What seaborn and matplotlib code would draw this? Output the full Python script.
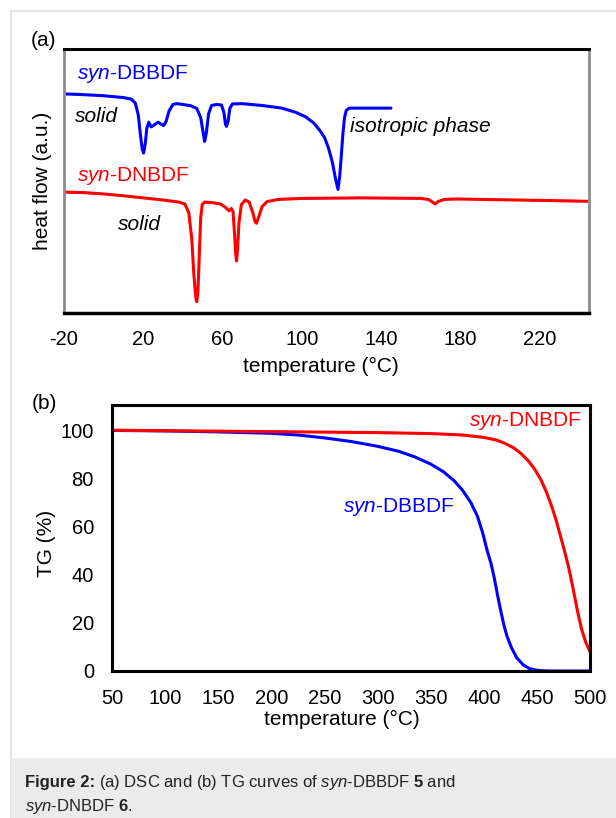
import numpy as np
import pandas as pd
import matplotlib
matplotlib.use("Agg")
import matplotlib.pyplot as plt
from matplotlib.patches import Rectangle
import seaborn as sns

# ---- data ----
# (a) DSC, heat flow in arbitrary units (0 = bottom of frame, 100 = top)
dsc_dbbdf_t = [-20, -10, 0, 10, 14, 16, 17.5, 18.5, 19.5, 20.2, 21, 21.8, 22.8, 24, 25.5,
               27.5, 29, 30.3, 31.5, 33, 35, 37, 40, 44, 47, 49, 50.3, 51, 51.8, 53, 54.5,
               57, 59.5, 60.7, 61.5, 62, 62.8, 63.7, 65, 70, 80, 90, 97, 102, 106, 109,
               111.5, 113.5, 115.5, 117, 118.3, 119.2, 120, 120.8, 121.6, 122.5, 124, 135, 145]
dsc_dbbdf_v = [83.0, 82.7, 82.3, 81.6, 81.0, 79.5, 75, 68, 62, 60.6, 64, 70, 72.3, 70.5, 71.2,
               72.3, 71.5, 71.0, 72.5, 76.5, 79.0, 79.3, 79.0, 78.5, 77.5, 74, 68, 65, 68, 75.5, 78.6,
               79.0, 78.8, 76, 71.5, 70.7, 72.5, 77.5, 79.2, 79.3, 78.6, 77.6, 76.0, 74.3, 72.0, 69.3,
               66.5, 62.5, 57, 51, 46.8, 52, 60, 68, 74, 76.8, 77.6, 77.6, 77.6]

dsc_dnbdf_t = [-20, -10, 0, 10, 20, 30, 38, 41, 43, 44.5, 45.5, 46.5, 47, 47.6, 48.3, 49, 49.8,
               51, 55, 59, 61.5, 63.3, 64.5, 65.3, 66, 66.7, 67.1, 67.6, 68.3, 69.5, 71.5, 73.5,
               75.3, 76.5, 77.2, 78.3, 80, 82.5, 88, 100, 130, 160, 164, 166, 167.3, 169, 172,
               178, 200, 225, 245]
dsc_dnbdf_v = [45.8, 45.6, 45.1, 44.4, 43.6, 42.8, 42.0, 41.3, 38, 28, 15, 6, 4.3, 8, 22, 36, 41.2,
               42, 41.8, 41.3, 40, 38.7, 39.6, 38.5, 31, 22, 19.7, 24, 34, 41, 42.8, 42,
               38, 34.5, 34.0, 36.5, 40.3, 42.2, 43.0, 43.4, 43.6, 43.4, 43.0, 42.0, 41.3, 42.3, 43.0,
               43.2, 42.9, 42.6, 42.3]

# (b) TG, weight %
tg_dbbdf_t = [50, 100, 150, 200, 225, 250, 275, 300, 320, 335, 350, 362, 372, 380, 388, 394,
              399, 403, 407, 410, 413, 416, 419, 422, 426, 431, 437, 443, 450, 460, 500]
tg_dbbdf_w = [100.2, 100, 99.6, 99.0, 98.3, 97.1, 95.6, 93.6, 91.5, 89.2, 86.2, 83.0, 79.3, 75.3,
              70, 64.5, 57.5, 50.5, 44.5, 38.5, 31.5, 25, 19, 14.3, 9.8, 5.5, 2.6, 1.0, 0.3, 0, 0]

tg_dnbdf_t = [50, 100, 200, 300, 350, 380, 400, 412, 420, 428, 435, 442, 448, 454, 459, 464,
              468, 472, 476, 480, 484, 488, 492, 496, 500]
tg_dnbdf_w = [100.3, 100.1, 99.7, 99.3, 98.9, 98.3, 97.3, 96.2, 94.8, 93.0, 90.6, 87.5, 84.0,
              79.5, 74.5, 68.5, 63, 56.5, 50, 43, 34.5, 25.5, 17.5, 12, 8]

dsc_xticks = [-20, 20, 60, 100, 140, 180, 220]
tg_xticks = [50, 100, 150, 200, 250, 300, 350, 400, 450, 500]
tg_yticks = [0, 20, 40, 60, 80, 100]

BLUE = "#0000ff"
RED = "#ff0000"

sns.set_style("white")
plt.rcParams['font.family'] = ['Liberation Sans', 'DejaVu Sans']
plt.rcParams['mathtext.fontset'] = 'custom'
plt.rcParams['mathtext.rm'] = 'Liberation Sans'
plt.rcParams['mathtext.it'] = 'Liberation Sans:italic'
plt.rcParams['mathtext.bf'] = 'Liberation Sans:bold'
for key in ['text.color', 'axes.labelcolor', 'xtick.color', 'ytick.color']:
    plt.rcParams[key] = 'black'

W, H = 616, 818
fig = plt.figure(figsize=(W / 100, H / 100), dpi=100)


def fx(px):
    return px / W


def fy(py):
    return 1 - py / H


# page frame + caption box (behind the axes)
fig.patches.append(Rectangle((fx(11), 0), 1, fy(11), transform=fig.transFigure,
                             facecolor="white", edgecolor="#e2e2e2", lw=1.2, zorder=-10))
fig.patches.append(Rectangle((fx(11), 0), 1, fy(758), transform=fig.transFigure,
                             facecolor="#ebebeb", edgecolor="none", zorder=-9))

FS = 15
TFS = 14.5

# ---- (a) DSC ----
ax1 = fig.add_axes([fx(64), fy(313), fx(589 - 64), (313 - 49) / H])
ax1.patch.set_alpha(0)
df_a1 = pd.DataFrame({"t": dsc_dbbdf_t, "v": dsc_dbbdf_v})
df_a2 = pd.DataFrame({"t": dsc_dnbdf_t, "v": dsc_dnbdf_v})
sns.lineplot(data=df_a1, x="t", y="v", ax=ax1, color=BLUE, linewidth=2.2, estimator=None)
sns.lineplot(data=df_a2, x="t", y="v", ax=ax1, color=RED, linewidth=2.2, estimator=None)
ax1.set_xlim(-20, 245)
ax1.set_ylim(0, 100)
ax1.set_xticks(dsc_xticks)
ax1.set_xticklabels([str(v) for v in dsc_xticks])
ax1.set_yticks([])
ax1.tick_params(axis="x", direction="in", length=5, width=2, pad=12, labelsize=TFS, color="black")
ax1.set_xlabel("temperature (°C)", fontsize=FS)
ax1.xaxis.set_label_coords(0.49, -0.165)
ax1.set_ylabel("heat flow (a.u.)", fontsize=FS)
ax1.yaxis.set_label_coords(-0.022, 0.5)
for side in ["left", "right"]:
    ax1.spines[side].set_color("#8c8c8c")
    ax1.spines[side].set_linewidth(2)
ax1.spines["top"].set_color("black")
ax1.spines["top"].set_linewidth(2.2)
ax1.spines["bottom"].set_color("black")
ax1.spines["bottom"].set_linewidth(2.5)

ax1.text(-13.3, 90.5, r"$\mathit{syn}$-DBBDF", color=BLUE, fontsize=FS, va="center")
ax1.text(-14.5, 74.3, "solid", style="italic", fontsize=FS, va="center")
ax1.text(124.5, 70.5, "isotropic phase", style="italic", fontsize=FS, va="center")
ax1.text(-13.3, 51.8, r"$\mathit{syn}$-DNBDF", color=RED, fontsize=FS, va="center")
ax1.text(7.2, 33.6, "solid", style="italic", fontsize=FS, va="center")

# ---- (b) TG ----
ax2 = fig.add_axes([fx(112), fy(671), fx(590 - 112), (671 - 405) / H])
ax2.patch.set_alpha(0)
df_b1 = pd.DataFrame({"t": tg_dbbdf_t, "w": tg_dbbdf_w})
df_b2 = pd.DataFrame({"t": tg_dnbdf_t, "w": tg_dnbdf_w})
sns.lineplot(data=df_b1, x="t", y="w", ax=ax2, color=BLUE, linewidth=2.2, estimator=None)
sns.lineplot(data=df_b2, x="t", y="w", ax=ax2, color=RED, linewidth=2.2, estimator=None)
ax2.set_xlim(50, 500)
ax2.set_ylim(0, 110.8)
ax2.set_xticks(tg_xticks)
ax2.set_yticks(tg_yticks)
ax2.tick_params(axis="both", direction="in", length=5, width=2, labelsize=TFS, color="black")
ax2.tick_params(axis="x", pad=13)
ax2.tick_params(axis="y", pad=13)
for side in ["left", "right", "top", "bottom"]:
    ax2.spines[side].set_color("black")
    ax2.spines[side].set_linewidth(2.2)
ax2.set_xlabel("temperature (°C)", fontsize=FS)
ax2.xaxis.set_label_coords(0.48, -0.148)
ax2.set_ylabel("TG (%)", fontsize=FS)
ax2.yaxis.set_label_coords(-0.118, 0.48)

ax2.text(386.5, 104, r"$\mathit{syn}$-DNBDF", color=RED, fontsize=FS, va="center")
ax2.text(267.5, 68.5, r"$\mathit{syn}$-DBBDF", color=BLUE, fontsize=FS, va="center")

# panel letters
fig.text(fx(44), fy(41), "(a)", fontsize=FS, ha="center", va="center")
fig.text(fx(44), fy(404), "(b)", fontsize=FS, ha="center", va="center")

# caption: bold lead-in, then the rest on the same baseline
CFS = 12
renderer = fig.canvas.get_renderer()
lead = fig.text(fx(25), fy(787), "Figure 2:", fontsize=CFS, weight="bold", va="baseline",
                color="#222222")
x_end = lead.get_window_extent(renderer=renderer).x1
fig.text(x_end / W + fx(3.5), fy(787),
         r"(a) DSC and (b) TG curves of $\mathit{syn}$-DBBDF $\mathbf{5}$ and",
         fontsize=CFS, va="baseline", color="#222222")
fig.text(fx(25), fy(811), r"$\mathit{syn}$-DNBDF $\mathbf{6}$.", fontsize=CFS, va="baseline",
         color="#222222")

fig.savefig("out.png", dpi=100)
